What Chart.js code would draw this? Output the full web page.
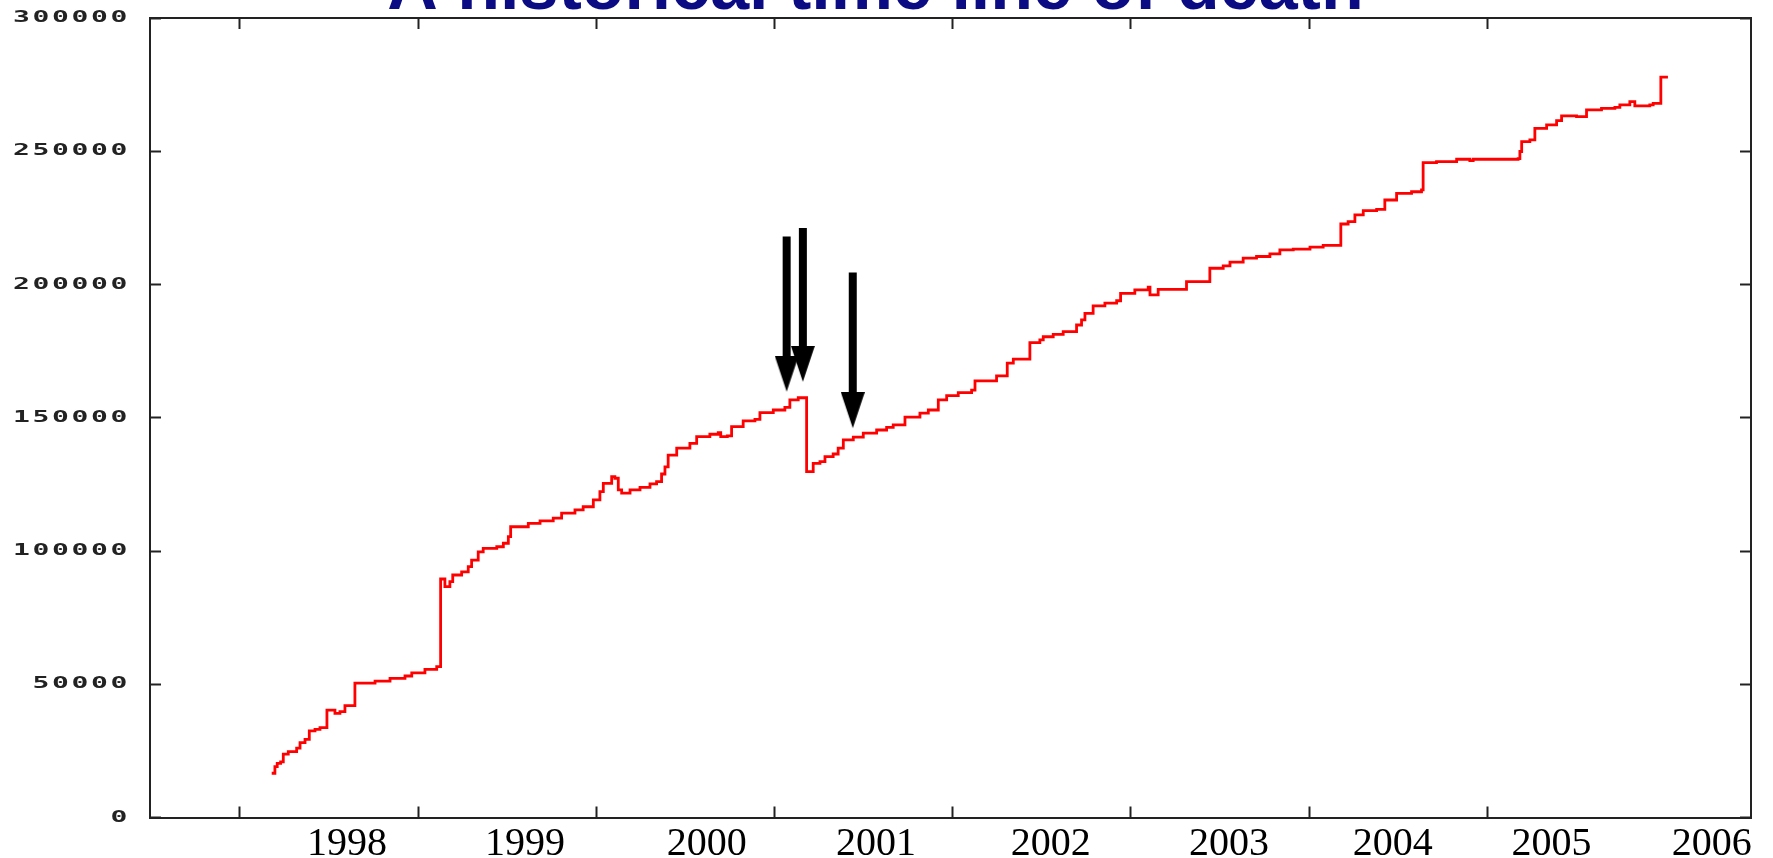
<!DOCTYPE html>
<html>
<head>
<meta charset="utf-8">
<script src="https://cdn.jsdelivr.net/npm/chart.js@4.4.1/dist/chart.umd.min.js"></script>
<style>
  html, body { margin: 0; padding: 0; background: #fff; }
  #wrap { position: relative; width: 1773px; height: 858px; }
</style>
</head>
<body>
<div id="wrap"><canvas id="deathChart"></canvas></div>
<script>
// steps of the curve: when (decimal year) and the count after the step
const years = [
  1998.178, 1998.196, 1998.209, 1998.228, 1998.243, 1998.271, 1998.318, 1998.337, 1998.365, 1998.389,
  1998.421, 1998.449, 1998.488, 1998.533, 1998.561, 1998.589, 1998.645, 1998.758, 1998.842, 1998.926,
  1998.964, 1999.038, 1999.104, 1999.126, 1999.150, 1999.178, 1999.194, 1999.244, 1999.281, 1999.300,
  1999.337, 1999.365, 1999.441, 1999.478, 1999.506, 1999.519, 1999.618, 1999.684, 1999.758, 1999.805,
  1999.880, 1999.926, 1999.983, 2000.020, 2000.039, 2000.086, 2000.104, 2000.123, 2000.142, 2000.189,
  2000.245, 2000.301, 2000.338, 2000.366, 2000.385, 2000.403, 2000.451, 2000.525, 2000.563, 2000.637,
  2000.684, 2000.698, 2000.735, 2000.759, 2000.824, 2000.890, 2000.918, 2000.993, 2001.058, 2001.086,
  2001.133, 2001.180, 2001.217, 2001.255, 2001.283, 2001.329, 2001.357, 2001.386, 2001.442, 2001.498,
  2001.573, 2001.629, 2001.666, 2001.732, 2001.816, 2001.863, 2001.919, 2001.966, 2002.031, 2002.106,
  2002.125, 2002.246, 2002.306, 2002.340, 2002.433, 2002.489, 2002.508, 2002.564, 2002.620, 2002.695,
  2002.723, 2002.742, 2002.788, 2002.854, 2002.920, 2002.942, 2003.022, 2003.097, 2003.107, 2003.153,
  2003.312, 2003.443, 2003.518, 2003.556, 2003.630, 2003.705, 2003.780, 2003.836, 2003.911, 2004.005,
  2004.079, 2004.178, 2004.219, 2004.257, 2004.304, 2004.379, 2004.425, 2004.491, 2004.575, 2004.631,
  2004.640, 2004.715, 2004.828, 2004.902, 2004.921, 2005.173, 2005.183, 2005.193, 2005.239, 2005.267,
  2005.333, 2005.389, 2005.417, 2005.501, 2005.557, 2005.641, 2005.716, 2005.744, 2005.800, 2005.828,
  2005.912, 2005.931, 2005.974, 2006.006
];
const counts = [
  16600, 19100, 20300, 20900, 23800, 24700, 26000, 28100, 29300, 32500,
  33100, 33700, 40300, 39100, 39700, 42000, 50400, 51200, 52200, 53100,
  54300, 55600, 56600, 89500, 86600, 88500, 91000, 92200, 94100, 96600,
  99700, 101000, 101600, 102900, 105400, 109100, 110400, 111300, 112300, 114200,
  115400, 116600, 119200, 122300, 125400, 127900, 127300, 122900, 121700, 122900,
  123900, 125200, 126000, 128900, 131600, 136000, 138600, 140400, 142900, 143800,
  144400, 142900, 143200, 146700, 148800, 149400, 151900, 152900, 153900, 156700,
  157500, 129800, 132900, 133500, 135400, 136400, 138600, 141700, 142700, 144200,
  145400, 146400, 147300, 150200, 151700, 152900, 156700, 158300, 159400, 160400,
  163800, 165700, 170500, 172000, 178200, 179200, 180400, 181300, 182300, 184800,
  186700, 189200, 192000, 193000, 193900, 196700, 198000, 199000, 196100, 198200,
  201100, 206100, 207000, 208400, 209900, 210500, 211500, 213000, 213300, 214000,
  214700, 222700, 223600, 226100, 227700, 228200, 231700, 234200, 234800, 235500,
  245700, 246100, 247000, 246500, 247000, 247200, 249900, 253600, 254300, 258600,
  259900, 261500, 263300, 263000, 265500, 266100, 266500, 267400, 268600, 267000,
  267400, 268000, 277800, 278300
];

// axes
const xMin = 1997.495;
const xMax = 2006.48;
const yearTicks = [1998, 1999, 2000, 2001, 2002, 2003, 2004, 2005];
const yearLabels = ['1998', '1999', '2000', '2001', '2002', '2003', '2004', '2005', '2006'];
const yearLabelAt = [1998.6, 1999.6, 2000.62, 2001.57, 2002.55, 2003.55, 2004.47, 2005.36, 2006.26];
const yMin = 0;
const yMax = 300000;
const yStep = 50000;

// the three arrows: where, shaft top, head base, head tip
const arrowX = [2001.068, 2001.159, 2001.439];
const arrowTop = [218000, 221200, 204500];
const arrowBase = [172500, 176200, 158900];
const arrowTip = [159800, 163500, 146100];

const titleText = 'A historical time line of death';

const curve = years.map((x, i) => ({x: x, y: counts[i]}));
const shafts = [];
arrowX.forEach((x, i) => {
    shafts.push({x: x, y: arrowTop[i]}, {x: x, y: arrowBase[i]}, {x: x, y: null});
});
const heads = arrowX.map((x, i) => ({x: x, y: arrowTip[i]}));

// arrow head as a point style; the tip sits at the image centre
const head = document.createElement('canvas');
head.width = 24;
head.height = 72;
const hc = head.getContext('2d');
hc.fillStyle = '#000';
hc.beginPath();
hc.moveTo(0, 0);
hc.lineTo(24, 0);
hc.lineTo(12, 36);
hc.closePath();
hc.fill();

// the y labels of the original are a wide pixel font: stretch them sideways
const wideYLabels = {
    id: 'wideYLabels',
    afterLayout(chart) {
        const scale = chart.scales.y;
        if (scale._widened) return;
        const drawLabels = scale.drawLabels;
        scale.drawLabels = function(area) {
            const ctx = this.ctx;
            const pivot = this.right - (this.options.grid.tickLength + this.options.ticks.padding);
            ctx.save();
            ctx.translate(pivot, 0);
            ctx.scale(1.75, 1);
            ctx.translate(-pivot, 0);
            ctx.letterSpacing = '1.5px';
            drawLabels.call(this, area);
            ctx.restore();
        };
        scale._widened = true;
    }
};

// keep the axes from pushing the plot area around
function noPadding(scale) {
    scale.paddingTop = 0;
    scale.paddingBottom = 0;
    scale.paddingLeft = 0;
    scale.paddingRight = 0;
}

const frameColor = '#222';

new Chart(document.getElementById('deathChart').getContext('2d'), {
    type: 'line',
    data: {
        datasets: [
            {
                label: 'arrow heads',
                data: heads,
                showLine: false,
                pointStyle: head,
                pointRadius: 10,
                pointHoverRadius: 10
            },
            {
                label: 'arrow shafts',
                data: shafts,
                borderColor: '#000',
                borderWidth: 8,
                borderCapStyle: 'butt',
                pointRadius: 0,
                spanGaps: false
            },
            {
                label: 'deaths',
                data: curve,
                borderColor: '#ff0000',
                borderWidth: 2.8,
                stepped: true,
                pointRadius: 0,
                fill: false
            }
        ]
    },
    options: {
        responsive: true,
        maintainAspectRatio: false,
        animation: false,
        layout: {
            padding: {left: 0, right: 22, top: 0, bottom: 0}
        },
        plugins: {
            legend: {display: false},
            tooltip: {enabled: false},
            title: {
                display: true,
                text: titleText,
                color: '#0b0b84',
                font: {family: "'Liberation Sans', Arial, sans-serif", size: 70, weight: 'bold', lineHeight: 1},
                padding: {top: -45, bottom: -7}
            }
        },
        scales: {
            x: {
                type: 'linear',
                position: 'bottom',
                min: xMin,
                max: xMax,
                afterBuildTicks: function(scale) {
                    scale.ticks = yearTicks.concat(yearLabelAt).sort((a, b) => a - b).map(v => ({value: v}));
                },
                afterFit: function(scale) {
                    scale.height = 40.5;
                    noPadding(scale);
                },
                ticks: {
                    autoSkip: false,
                    maxRotation: 0,
                    padding: 18,
                    color: '#000',
                    font: {family: "'Liberation Serif', 'Times New Roman', serif", size: 40, lineHeight: 1},
                    callback: function(value) {
                        const i = yearLabelAt.indexOf(value);
                        return i < 0 ? '' : yearLabels[i];
                    }
                },
                grid: {
                    drawOnChartArea: false,
                    drawTicks: true,
                    tickLength: -11,
                    tickWidth: 2,
                    tickColor: function(ctx) {
                        return ctx.tick && yearTicks.includes(ctx.tick.value) ? frameColor : 'rgba(0,0,0,0)';
                    }
                },
                border: {display: true, color: frameColor, width: 2}
            },
            xTop: {
                type: 'linear',
                position: 'top',
                min: xMin,
                max: xMax,
                afterBuildTicks: function(scale) {
                    scale.ticks = yearTicks.map(v => ({value: v}));
                },
                afterFit: function(scale) {
                    scale.height = 0;
                    noPadding(scale);
                },
                ticks: {display: false},
                grid: {drawOnChartArea: false, drawTicks: true, tickLength: -11, tickWidth: 2, tickColor: frameColor},
                border: {display: true, color: frameColor, width: 2}
            },
            y: {
                type: 'linear',
                position: 'left',
                min: yMin,
                max: yMax,
                afterFit: function(scale) {
                    scale.width = 150;
                    noPadding(scale);
                },
                ticks: {
                    stepSize: yStep,
                    padding: 31,
                    color: '#222',
                    font: {family: "'DejaVu Sans Mono', monospace", size: 16, weight: 'bold'},
                    callback: function(value) {
                        return String(value);
                    }
                },
                grid: {drawOnChartArea: false, drawTicks: true, tickLength: -11, tickWidth: 2, tickColor: frameColor},
                border: {display: true, color: frameColor, width: 2}
            },
            yRight: {
                type: 'linear',
                position: 'right',
                min: yMin,
                max: yMax,
                afterFit: function(scale) {
                    scale.width = 0;
                    noPadding(scale);
                },
                ticks: {display: false, stepSize: yStep},
                grid: {drawOnChartArea: false, drawTicks: true, tickLength: -11, tickWidth: 2, tickColor: frameColor},
                border: {display: true, color: frameColor, width: 2}
            }
        }
    },
    plugins: [wideYLabels]
});
</script>
</body>
</html>
